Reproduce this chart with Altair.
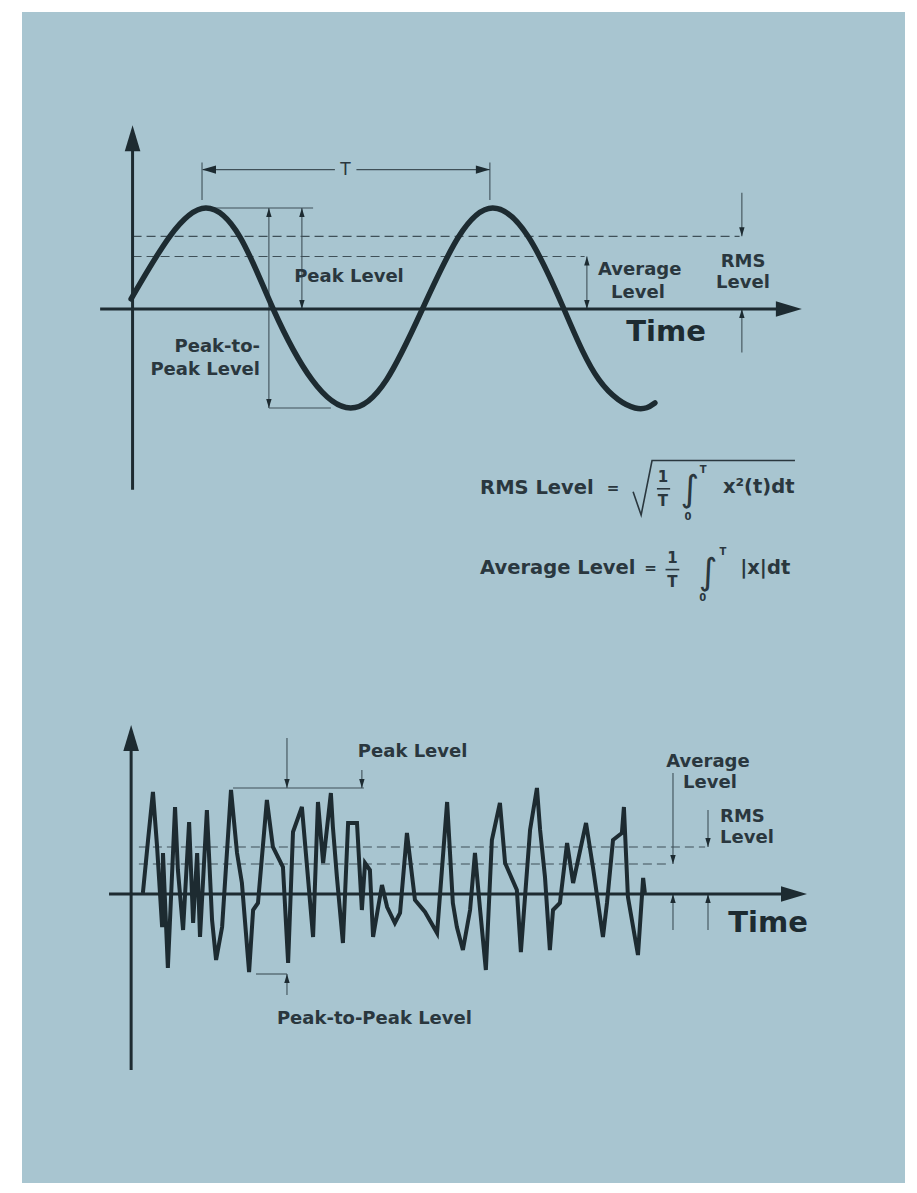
import altair as alt
import pandas as pd

PANEL = "#a8c5d0"
INK = "#1d2b31"
THIN = "#3f5058"
TXT = "#2a373e"
FONT = "DejaVu Sans"

# ---------------- data ----------------
# time in periods T, amplitude in peak units
sine_t = [-0.01, 0.125, 0.25, 0.37, 0.485, 0.62, 0.755, 0.88, 1.005, 1.13, 1.25, 1.375, 1.498, 1.62, 1.746, 1.815]
sine_amp = [0.10, 0.72, 1.0, 0.71, 0.0, -0.70, -0.98, -0.70, 0.0, 0.71, 1.0, 0.71, 0.0, -0.70, -0.98, -0.93]

noise_t = [0.031, 0.049, 0.066, 0.080, 0.098, 0.101, 0.118, 0.143, 0.153, 0.171, 0.192, 0.206, 0.220, 0.230,
           0.254, 0.272, 0.286, 0.307, 0.338, 0.359, 0.376, 0.401, 0.415, 0.432, 0.463, 0.484, 0.519, 0.537,
           0.554, 0.585, 0.624, 0.641, 0.659, 0.686, 0.693, 0.707, 0.728, 0.746, 0.777, 0.794, 0.805, 0.822,
           0.833, 0.864, 0.882, 0.909, 0.927, 0.951, 0.979, 1.014, 1.056, 1.091, 1.111, 1.125, 1.146, 1.171,
           1.188, 1.206, 1.226, 1.247, 1.275, 1.293, 1.334, 1.348, 1.380, 1.404, 1.415, 1.432, 1.449, 1.460,
           1.484, 1.509, 1.530, 1.575, 1.599, 1.634, 1.648, 1.669, 1.700, 1.707, 1.721, 1.756, 1.774, 1.780]
noise_amp = [0.01, 0.54, 1.02, 0.49, -0.33, 0.41, -0.74, 0.87, 0.24, -0.36, 0.72, -0.29, 0.41, -0.43,
             0.84, -0.26, -0.66, -0.33, 1.04, 0.41, 0.11, -0.78, -0.16, -0.09, 0.94, 0.47, 0.27, -0.69,
             0.62, 0.87, -0.43, 0.92, 0.31, 1.01, 0.67, 0.17, -0.49, 0.71, 0.71, -0.16, 0.31, 0.24,
             -0.43, 0.09, -0.13, -0.29, -0.19, 0.61, -0.06, -0.18, -0.39, 0.92, -0.09, -0.33, -0.56, -0.16,
             0.41, -0.16, -0.76, 0.54, 0.91, 0.31, 0.04, -0.58, 0.64, 1.06, 0.64, 0.17, -0.56, -0.16,
             -0.09, 0.51, 0.11, 0.71, 0.27, -0.43, -0.09, 0.54, 0.61, 0.87, -0.03, -0.61, 0.16, 0.01]

top_rms, top_avg = 0.72, 0.52
bot_rms, bot_avg = 0.47, 0.30
bot_peak, bot_trough = 1.06, -0.80

# ---------------- scales ----------------
xs = alt.Scale(domain=[0, 1], range=[112, 399], nice=False, zero=False)
ys_top = alt.Scale(domain=[-1, 1], range=[398, 196], nice=False, zero=False)
ys_bot = alt.Scale(domain=[-1, 1], range=[982, 782], nice=False, zero=False)

W = 0.6
shape_scale = alt.Scale(
    domain=["up", "down", "left", "right"],
    range=[f"M0,0 L{W},2 L-{W},2 Z", f"M0,0 L{W},-2 L-{W},-2 Z",
           f"M0,0 L2,{W} L2,-{W} Z", f"M0,0 L-2,{W} L-2,-{W} Z"],
)


def X(f="t"):
    return alt.X(f"{f}:Q", scale=xs, axis=None)


def Y(ys, f="a"):
    return alt.Y(f"{f}:Q", scale=ys, axis=None)


def segs(rows, ys, **mk):
    df = pd.DataFrame(rows, columns=["t", "a", "t2", "a2"])
    return alt.Chart(df).mark_rule(**mk).encode(
        x=X(), y=Y(ys), x2=alt.X2("t2:Q"), y2=alt.Y2("a2:Q"))


def heads(rows, ys, size):
    df = pd.DataFrame(rows, columns=["t", "a", "dir"])
    return alt.Chart(df).mark_point(filled=True, opacity=1, size=size, color=INK, strokeWidth=0).encode(
        x=X(), y=Y(ys), shape=alt.Shape("dir:N", scale=shape_scale, legend=None))


def texts(rows, ys, align="center", size=18, weight="bold", color=TXT):
    df = pd.DataFrame(rows, columns=["t", "a", "label"])
    return alt.Chart(df).mark_text(align=align, baseline="middle", font=FONT, fontSize=size,
                                   fontWeight=weight, color=color).encode(
        x=X(), y=Y(ys), text="label:N")


def curve(t, a, ys, **mk):
    df = pd.DataFrame({"t": t, "a": a})
    return alt.Chart(df).mark_line(**mk).encode(x=X(), y=Y(ys))


layers = []

# ================= top diagram =================
layers += [
    segs([[-0.005, top_rms, 2.11, top_rms], [-0.005, top_avg, 1.57, top_avg]], ys_top,
         color=THIN, strokeWidth=1.2, strokeDash=[9, 5]),
    segs([[0.237, 1.08, 0.237, 1.45], [1.24, 1.08, 1.24, 1.45],
          [0.24, 1.38, 0.70, 1.38], [0.775, 1.38, 1.24, 1.38],
          [0.275, 1.0, 0.624, 1.0], [0.585, 1.0, 0.585, 0.0],
          [0.470, 1.0, 0.470, -0.98], [0.470, -0.98, 0.686, -0.98],
          [1.578, top_avg, 1.578, 0.0],
          [2.118, 1.15, 2.118, top_rms], [2.118, -0.43, 2.118, 0.0]], ys_top,
         color=THIN, strokeWidth=1.1),
    segs([[-0.005, -1.79, -0.005, 1.64], [-0.118, 0.0, 2.29, 0.0]], ys_top, color=INK, strokeWidth=3),
    curve(sine_t, sine_amp, ys_top, interpolate="natural", strokeWidth=5.5, color=INK, strokeCap="round"),
    heads([[0.585, 1.0, "up"], [0.585, 0.0, "down"], [0.470, 1.0, "up"], [0.470, -0.98, "down"],
           [1.578, top_avg, "up"], [1.578, 0.0, "down"], [2.118, top_rms, "down"], [2.118, 0.0, "up"]],
          ys_top, 81),
    heads([[0.237, 1.38, "left"], [1.24, 1.38, "right"]], ys_top, 196),
    heads([[-0.005, 1.82, "up"], [2.327, 0.0, "right"]], ys_top, 676),
    texts([[0.749, 0.32, "Peak Level"], [1.756, 0.16, "Level"], [2.122, 0.47, "RMS"], [2.122, 0.26, "Level"]],
          ys_top),
    texts([[1.617, 0.39, "Average"]], ys_top, align="left"),
    texts([[0.439, -0.38, "Peak-to-"], [0.439, -0.60, "Peak Level"]], ys_top, align="right"),
    texts([[0.737, 1.38, "T"]], ys_top, size=17, weight="normal"),
    texts([[1.854, -0.23, "Time"]], ys_top, size=29, weight="bold", color=INK),
    # formulas
    texts([[1.206, -1.77, "RMS Level"], [2.052, -1.76, "x²(t)dt"],
           [1.206, -2.56, "Average Level"], [2.112, -2.56, "|x|dt"]], ys_top, align="left", size=19.5),
    texts([[1.669, -1.77, "="], [1.800, -2.56, "="], [1.843, -1.66, "1"], [1.843, -1.90, "T"],
           [1.876, -2.47, "1"], [1.876, -2.70, "T"]], ys_top, size=15),
    texts([[1.937, -1.79, "∫"], [2.000, -2.61, "∫"]], ys_top, size=36, weight="normal"),
    texts([[1.983, -1.59, "T"], [1.930, -2.06, "0"], [2.052, -2.41, "T"], [1.982, -2.86, "0"]],
          ys_top, size=10),
    segs([[1.822, -1.78, 1.868, -1.78], [1.852, -2.58, 1.900, -2.58]], ys_top, color=TXT, strokeWidth=1.6),
    curve([1.739, 1.767, 1.805, 2.303], [-1.81, -2.04, -1.50, -1.50], ys_top, color=TXT, strokeWidth=1.6),
]

# ================= bottom diagram =================
layers += [
    segs([[0.017, bot_rms, 1.99, bot_rms], [0.017, bot_avg, 1.87, bot_avg]], ys_bot,
         color=THIN, strokeWidth=1.2, strokeDash=[9, 5]),
    segs([[0.345, bot_peak, 0.801, bot_peak], [0.533, 1.56, 0.533, bot_peak], [0.794, 1.24, 0.794, bot_peak],
          [0.425, bot_trough, 0.533, bot_trough], [0.533, -1.01, 0.533, bot_trough],
          [1.878, 1.21, 1.878, bot_avg], [1.878, -0.36, 1.878, 0.0],
          [2.0, 0.84, 2.0, bot_rms], [2.0, -0.36, 2.0, 0.0]], ys_bot,
         color=THIN, strokeWidth=1.1),
    segs([[-0.01, -1.76, -0.01, 1.50], [-0.087, 0.0, 2.30, 0.0]], ys_bot, color=INK, strokeWidth=3),
    curve(noise_t, noise_amp, ys_bot, strokeWidth=4, color=INK, strokeJoin="miter"),
    heads([[0.533, bot_peak, "down"], [0.794, bot_peak, "down"], [0.533, bot_trough, "up"],
           [1.878, bot_avg, "down"], [1.878, 0.0, "up"], [2.0, bot_rms, "down"], [2.0, 0.0, "up"]],
          ys_bot, 81),
    heads([[-0.01, 1.69, "up"], [2.345, 0.0, "right"]], ys_bot, 676),
    texts([[0.780, 1.42, "Peak Level"], [0.498, -1.25, "Peak-to-Peak Level"],
           [2.042, 0.77, "RMS"], [2.042, 0.56, "Level"]], ys_bot, align="left"),
    texts([[2.0, 1.32, "Average"], [2.007, 1.11, "Level"]], ys_bot),
    texts([[2.209, -0.29, "Time"]], ys_bot, size=29, weight="bold", color=INK),
]

chart = alt.layer(*layers).resolve_scale(y="independent").properties(
    width=883, height=1171,
    autosize=alt.AutoSizeParams(type="none"),
    padding={"left": 14, "top": 4, "right": 4, "bottom": 2},
    background="white",
).configure_view(fill=PANEL, strokeWidth=0)

chart.save("out.html", embed_options={"renderer": "svg", "actions": False})
